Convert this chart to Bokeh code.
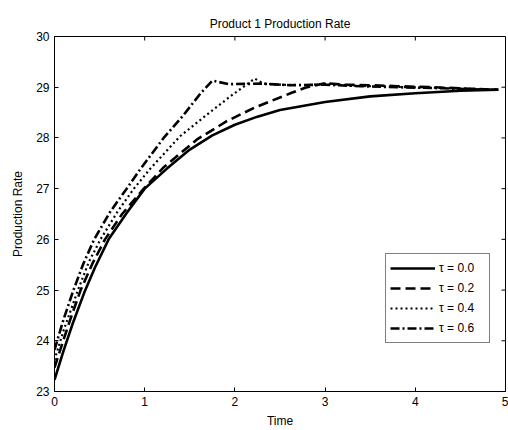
import math
from bokeh.plotting import figure
from bokeh.models import FixedTicker, Legend, LegendItem, Range1d
from bokeh.embed import file_html
from bokeh.resources import INLINE

# ---- data ----
t_00 = [0, 0.1, 0.2, 0.33, 0.45, 0.6, 0.8, 1.0, 1.25, 1.5, 1.75, 2.0, 2.25, 2.5, 2.75, 3.0, 3.5, 4.0, 4.5, 4.92]
y_00 = [23.23, 23.8, 24.33, 24.95, 25.45, 26.0, 26.52, 27.0, 27.4, 27.77, 28.05, 28.26, 28.42, 28.55, 28.63, 28.71, 28.82, 28.88, 28.93, 28.95]

t_02 = [0, 0.1, 0.2, 0.29, 0.42, 0.56, 0.75, 0.99, 1.21, 1.58, 1.91, 2.22, 2.63, 2.78, 3.0, 3.2, 3.5, 3.8, 4.2, 4.6, 4.92]
y_02 = [23.47, 24.02, 24.55, 25.0, 25.52, 26.0, 26.5, 27.0, 27.42, 27.97, 28.33, 28.6, 28.89, 28.99, 29.08, 29.05, 29.04, 29.02, 29.0, 28.97, 28.95]

t_04 = [0, 0.1, 0.26, 0.38, 0.51, 0.7, 0.88, 1.06, 1.39, 1.69, 1.95, 2.22, 2.32, 2.5, 2.8, 3.0, 3.3, 3.7, 4.2, 4.6, 4.92]
y_04 = [23.62, 24.2, 25.0, 25.55, 26.0, 26.55, 27.0, 27.39, 28.03, 28.46, 28.82, 29.17, 29.07, 29.05, 29.04, 29.07, 29.03, 29.01, 28.99, 28.97, 28.95]

t_06 = [0, 0.1, 0.21, 0.32, 0.44, 0.62, 0.8, 0.95, 1.21, 1.43, 1.62, 1.75, 1.93, 2.3, 2.6, 3.0, 3.4, 3.8, 4.3, 4.6, 4.92]
y_06 = [23.82, 24.42, 25.0, 25.52, 26.0, 26.55, 27.0, 27.38, 28.0, 28.45, 28.88, 29.13, 29.06, 29.07, 29.04, 29.05, 29.02, 29.0, 28.98, 28.96, 28.95]

labels = ["\u03c4 = 0.0", "\u03c4 = 0.2", "\u03c4 = 0.4", "\u03c4 = 0.6"]
x_ticks = [0, 1, 2, 3, 4, 5]
y_ticks = [23, 24, 25, 26, 27, 28, 29, 30]

FONT = "Liberation Sans"

p = figure(width=508, height=430, output_backend="svg", toolbar_location=None,
           x_range=Range1d(x_ticks[0], x_ticks[-1]), y_range=Range1d(y_ticks[0], y_ticks[-1]),
           title="Product 1 Production Rate",
           x_axis_label="Time", y_axis_label="Production Rate",
           min_border_left=54, min_border_right=3, min_border_top=36, min_border_bottom=38)
p.background_fill_color = "white"
p.border_fill_color = "white"
p.xgrid.visible = False
p.ygrid.visible = False
p.outline_line_color = "black"
p.outline_line_width = 1

p.title.text_font = FONT
p.title.text_font_size = "12px"
p.title.text_font_style = "normal"
p.title.align = "center"
p.title.text_color = "black"
p.title.standoff = 12

for ax in [p.xaxis[0], p.yaxis[0]]:
    ax.major_tick_in = 4
    ax.major_tick_out = 0
    ax.minor_tick_line_color = None
    ax.major_label_text_font = FONT
    ax.major_label_text_font_size = "12px"
    ax.major_label_text_color = "black"
    ax.axis_label_text_font = FONT
    ax.axis_label_text_font_size = "12px"
    ax.axis_label_text_font_style = "normal"
    ax.axis_label_text_color = "black"
    ax.axis_line_color = "black"
    ax.major_tick_line_color = "black"
p.xaxis[0].ticker = FixedTicker(ticks=x_ticks)
p.yaxis[0].ticker = FixedTicker(ticks=y_ticks)
p.xaxis[0].axis_label_standoff = 5
p.yaxis[0].axis_label_standoff = 8

# inward ticks on the top and right edges of the box
p.ray(x=x_ticks, y=[y_ticks[-1]] * len(x_ticks), length=4, length_units="screen",
      angle=-math.pi / 2, line_color="black", line_width=1)
p.ray(x=[x_ticks[-1]] * len(y_ticks), y=y_ticks, length=4, length_units="screen",
      angle=math.pi, line_color="black", line_width=1)

r0 = p.line(t_00, y_00, line_color="black", line_width=2.6)
r1 = p.line(t_02, y_02, line_color="black", line_width=2.6, line_dash="10 5")
r2 = p.line(t_04, y_04, line_color="black", line_width=2.2, line_dash="2 3")
r3 = p.line(t_06, y_06, line_color="black", line_width=2.6, line_dash="9 3 2 3")

legend = Legend(items=[LegendItem(label=labels[i], renderers=[r]) for i, r in enumerate([r0, r1, r2, r3])],
                location=(331, 48), glyph_width=45, glyph_height=20, label_height=20, label_width=46,
                spacing=0, padding=4, margin=0, label_standoff=4,
                label_text_font=FONT, label_text_font_size="12px", label_text_color="black",
                border_line_color="black", border_line_width=1.5, background_fill_alpha=1)
p.add_layout(legend, "center")

open("out.html", "w").write(file_html(p, INLINE))
